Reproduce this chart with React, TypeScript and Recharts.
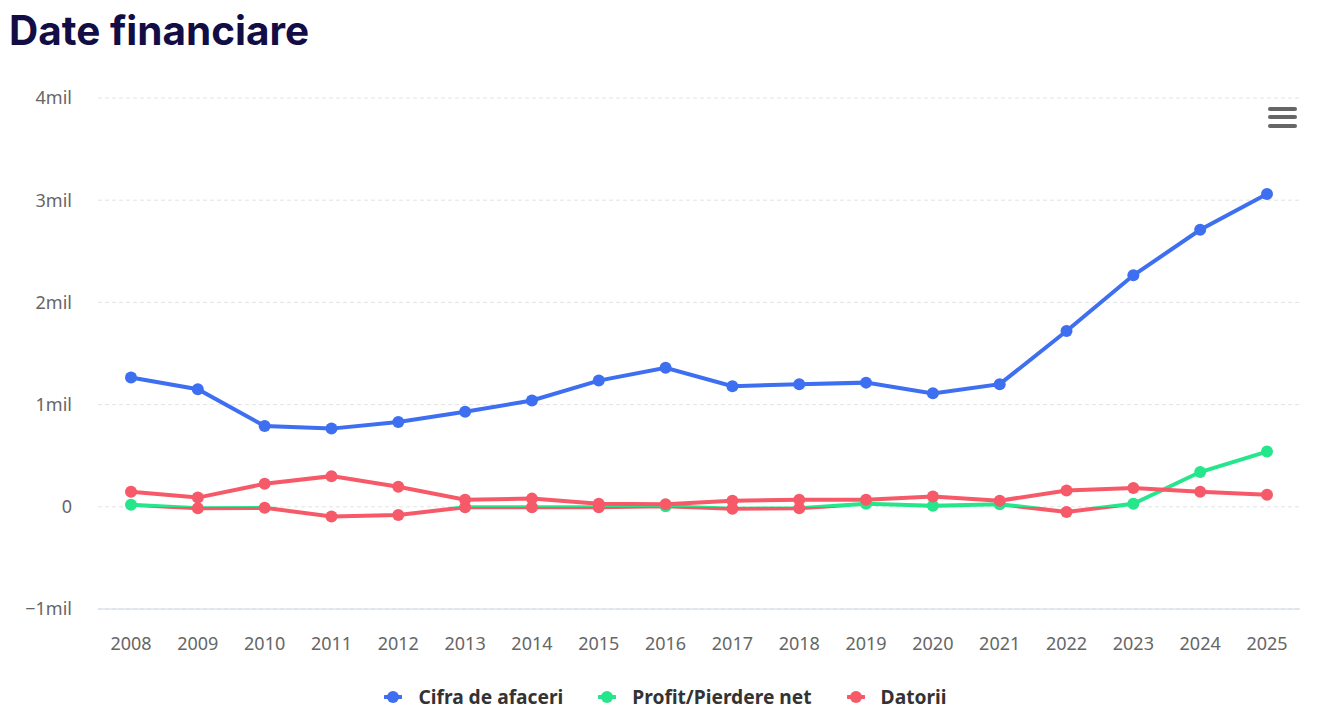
import React from "react";
import {
  LineChart,
  Line,
  XAxis,
  YAxis,
  CartesianGrid,
  Legend
} from "recharts";

const years = [
  "2008", "2009", "2010", "2011", "2012", "2013", "2014", "2015", "2016",
  "2017", "2018", "2019", "2020", "2021", "2022", "2023", "2024", "2025"
];

const cifraAfaceri = [
  1265000, 1150000, 790000, 765000, 830000, 930000, 1040000, 1235000, 1360000,
  1180000, 1200000, 1215000, 1110000, 1200000, 1720000, 2265000, 2710000, 3060000
];

const profitNet = [
  20000, -15000, -10000, -95000, -80000, -5000, -5000, -5000, 5000,
  -20000, -15000, 30000, 10000, 25000, -50000, 30000, 340000, 540000
];

const datorii = [
  147000, 90000, 225000, 300000, 196000, 70000, 80000, 30000, 25000,
  60000, 70000, 70000, 100000, 60000, 160000, 185000, 147000, 118000
];

const yTicks = [-1000000, 0, 1000000, 2000000, 3000000, 4000000];

const BLUE = "#3d6ff0";
const GREEN = "#25e68b";
const RED = "#f65a69";
const FONT = "'Noto Sans', 'DejaVu Sans', sans-serif";

const chartData = years.map((year, i) => ({
  year,
  cifra: cifraAfaceri[i],
  profit: profitNet[i],
  datorii: datorii[i]
}));

// zone split for the profit line: green above zero, red below
const pMax = Math.max(...profitNet);
const pMin = Math.min(...profitNet);
const zeroOffset = pMax / (pMax - pMin);

const formatMil = (v: number) => {
  if (v === 0) return "0";
  const m = v / 1000000;
  return (m < 0 ? "\u2212" + Math.abs(m) : String(m)) + "mil";
};

const legendItems = [
  { label: "Cifra de afaceri", color: BLUE },
  { label: "Profit/Pierdere net", color: GREEN },
  { label: "Datorii", color: RED }
];

function LegendContent() {
  return (
    <div
      style={{
        display: "flex",
        justifyContent: "center",
        alignItems: "center",
        gap: 35,
        fontFamily: FONT,
        fontSize: 19.2,
        fontWeight: 700,
        color: "#333333"
      }}
    >
      {legendItems.map((item) => (
        <div key={item.label} style={{ display: "flex", alignItems: "center" }}>
          <svg width={18} height={14} style={{ marginRight: 16 }}>
            <line x1={1} y1={7} x2={17} y2={7} stroke={item.color} strokeWidth={4} strokeLinecap="round" />
            <circle cx={9} cy={7} r={6} fill={item.color} />
          </svg>
          <span>{item.label}</span>
        </div>
      ))}
    </div>
  );
}

const profitDot = (props: any) => {
  const { cx, cy, value, index } = props;
  return (
    <circle
      key={`pd-${index}`}
      cx={cx}
      cy={cy}
      r={6}
      fill={value < 0 ? RED : GREEN}
    />
  );
};

function MenuIcon() {
  const bar = (top: number) => (
    <div
      style={{
        position: "absolute",
        left: 1268,
        top,
        width: 29,
        height: 4,
        borderRadius: 2,
        background: "#666666"
      }}
    />
  );
  return (
    <>
      {bar(107)}
      {bar(115)}
      {bar(124)}
    </>
  );
}

export default function App() {
  return (
    <div
      style={{
        position: "absolute",
        left: 0,
        top: 0,
        width: 1331,
        height: 728,
        background: "#ffffff",
        overflow: "hidden"
      }}
    >
      <div
        style={{
          position: "absolute",
          left: 9,
          top: 6,
          fontFamily: "Inter, sans-serif",
          fontWeight: 700,
          fontSize: 40.5,
          lineHeight: "50px",
          color: "#120d45"
        }}
      >
        Date financiare
      </div>
      <LineChart
        width={1331}
        height={728}
        data={chartData}
        margin={{ top: 98, right: 31, bottom: 42, left: 0 }}
      >
        <defs>
          <linearGradient id="profitZone" x1="0" y1="0" x2="0" y2="1">
            <stop offset={zeroOffset} stopColor={GREEN} />
            <stop offset={zeroOffset} stopColor={RED} />
          </linearGradient>
        </defs>
        <CartesianGrid
          vertical={false}
          stroke="#e3e3e3"
          strokeDasharray="4 3"
        />
        <XAxis
          dataKey="year"
          type="category"
          height={50}
          padding={{ left: 33, right: 33 }}
          tickLine={false}
          tickSize={0}
          tickMargin={28}
          axisLine={{ stroke: "#ccd6eb", strokeWidth: 1 }}
          interval={0}
          tick={{ fill: "#666666", fontSize: 18, fontFamily: FONT }}
        />
        <YAxis
          width={98}
          domain={[-1000000, 4000000]}
          ticks={yTicks}
          tickFormatter={formatMil}
          axisLine={false}
          tickLine={false}
          tickSize={0}
          tickMargin={26}
          tick={{ fill: "#666666", fontSize: 18, fontFamily: FONT }}
        />
        <Line
          dataKey="cifra"
          name="Cifra de afaceri"
          type="linear"
          stroke={BLUE}
          strokeWidth={4}
          dot={{ r: 6, fill: BLUE, stroke: "none" }}
          activeDot={false}
          isAnimationActive={false}
        />
        <Line
          dataKey="profit"
          name="Profit/Pierdere net"
          type="linear"
          stroke="url(#profitZone)"
          strokeWidth={4}
          dot={profitDot}
          activeDot={false}
          isAnimationActive={false}
        />
        <Line
          dataKey="datorii"
          name="Datorii"
          type="linear"
          stroke={RED}
          strokeWidth={4}
          dot={{ r: 6, fill: RED, stroke: "none" }}
          activeDot={false}
          isAnimationActive={false}
        />
        <Legend
          layout="vertical"
          align="center"
          verticalAlign="bottom"
          content={<LegendContent />}
          wrapperStyle={{ left: 0, top: 683, width: 1331, bottom: "auto" }}
        />
      </LineChart>
      <MenuIcon />
    </div>
  );
}
